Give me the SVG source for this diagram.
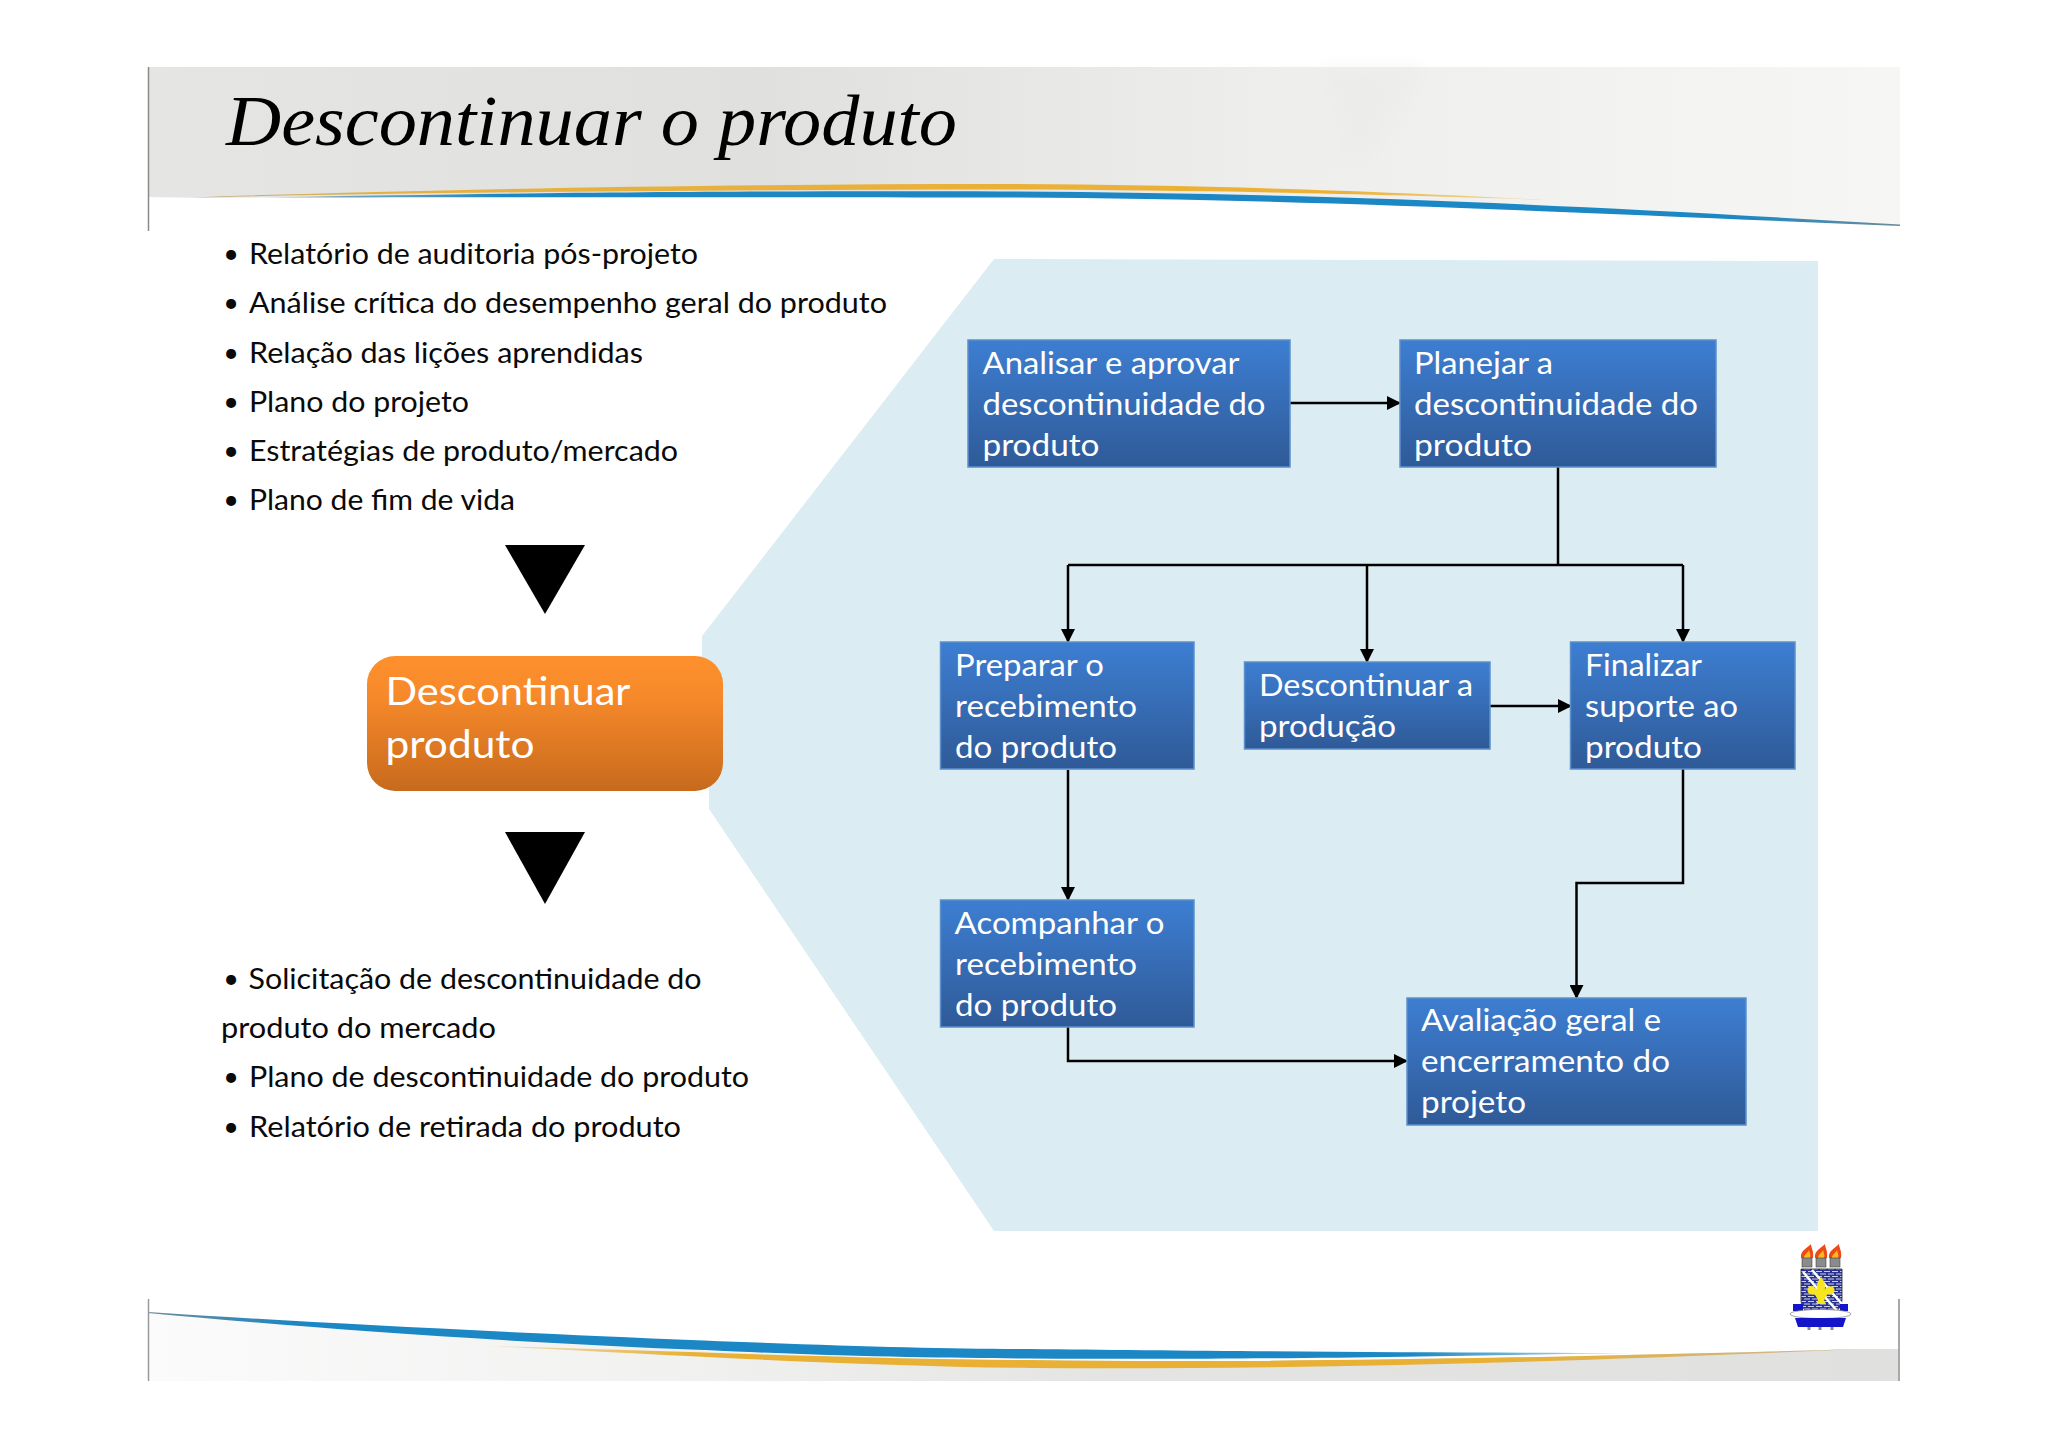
<svg xmlns="http://www.w3.org/2000/svg" width="2048" height="1447" viewBox="0 0 2048 1447">
<style>
.bl{font-family:"Lato","Open Sans",sans-serif;font-size:28px;fill:#0a0a0a}
.bu{font-family:"Lato","Open Sans",sans-serif;font-size:27px;fill:#0a0a0a;text-anchor:middle}
.bx{font-family:"Lato","Open Sans",sans-serif;font-size:30.5px;fill:#fff}
.or{font-family:"Lato","Open Sans",sans-serif;font-size:38px;fill:#fff}
.box{fill:url(#bg);stroke:#5c90cc;stroke-width:1.5}
.c{fill:none;stroke:#000;stroke-width:2.5;stroke-linejoin:miter}
.a{marker-end:url(#ar)}
.fl{fill:#ee4a18}.fy{fill:#f9b81e}.tc{fill:#8b8b8b;stroke:#444;stroke-width:.6}
</style>
<defs>
<linearGradient id="bg" x1="0" y1="0" x2="0" y2="1"><stop offset="0" stop-color="#3d7ed2"/><stop offset="1" stop-color="#2f5a97"/></linearGradient>
<linearGradient id="og" x1="0" y1="0" x2="0" y2="1"><stop offset="0" stop-color="#fe902c"/><stop offset=".3" stop-color="#f6892a"/><stop offset="1" stop-color="#c76a1d"/></linearGradient>
<linearGradient id="hd" x1="0" y1="0" x2="1" y2="0"><stop offset="0" stop-color="#e5e5e3"/><stop offset=".35" stop-color="#e0e0de"/><stop offset=".65" stop-color="#eeeeec"/><stop offset="1" stop-color="#f6f6f4"/></linearGradient>
<linearGradient id="ft" x1="0" y1="0" x2="1" y2="0"><stop offset="0" stop-color="#fbfbfb"/><stop offset=".3" stop-color="#f1f1f0"/><stop offset=".55" stop-color="#e4e4e2"/><stop offset="1" stop-color="#e0e0df"/></linearGradient>
<linearGradient id="gd" x1="0" y1="0" x2="1" y2="0"><stop offset="0" stop-color="#b9ad8c"/><stop offset=".12" stop-color="#e5b042"/><stop offset=".85" stop-color="#ecb134"/><stop offset="1" stop-color="#f3dcae"/></linearGradient>
<linearGradient id="bh" x1="0" y1="0" x2="1" y2="0"><stop offset="0" stop-color="#9fb4bb"/><stop offset=".15" stop-color="#1b87c4"/><stop offset=".9" stop-color="#1b87c4"/><stop offset="1" stop-color="#6c8c9c"/></linearGradient>
<linearGradient id="bf" x1="0" y1="0" x2="1" y2="0"><stop offset="0" stop-color="#6c8c9c"/><stop offset=".1" stop-color="#1b87c4"/><stop offset=".85" stop-color="#1b87c4"/><stop offset="1" stop-color="#cfe4ea"/></linearGradient>
<linearGradient id="gf" x1="0" y1="0" x2="1" y2="0"><stop offset="0" stop-color="#efe3c8"/><stop offset=".15" stop-color="#e8b035"/><stop offset=".75" stop-color="#e8b035"/><stop offset="1" stop-color="#c9b98f"/></linearGradient>
<pattern id="br" width="8" height="5" patternUnits="userSpaceOnUse"><rect width="8" height="5" fill="#2a3390"/><path d="M0 1.5H6M-4 4H2M4 4H10" stroke="#c9cfe8" stroke-width="1.1"/></pattern>
<marker id="ar" markerUnits="userSpaceOnUse" markerWidth="14" markerHeight="14" refX="12" refY="7" orient="auto"><path d="M0 0L14 7L0 14Z" fill="#000"/></marker>
<filter id="bl"><feGaussianBlur stdDeviation="8"/></filter>
</defs>
<rect width="2048" height="1447" fill="#fff"/>
<g id="header">
<path d="M148 67H1900V225C1550 204 1300 193 1000 192C800 191 600 192 300 197L205 198L148 197Z" fill="url(#hd)"/>
<path d="M1322 67H1425L1368 160H1345Z" fill="#e9e9e7" opacity=".45" filter="url(#bl)"/>
<path d="M190 197.500C400 190 700 184 1000 184C1200 184.500 1400 192 1545 200C1400 194.500 1200 190 1000 189.500C700 189.500 400 193 190 197.500Z" fill="url(#gd)"/>
<path d="M260 197.500C600 191.500 800 191 1000 191.500C1300 193 1550 203.500 1900 224.500L1900 226C1550 212 1300 198.500 1000 197.500C800 197 600 197 260 197.500Z" fill="url(#bh)"/>
<path d="M148.500 67V231" stroke="#8a8a8a" stroke-width="1.500" fill="none"/>
<text x="226" y="145" font-family="'Liberation Serif',serif" font-style="italic" font-size="72" fill="#000" textLength="731" lengthAdjust="spacingAndGlyphs">Descontinuar o produto</text>
</g>
<g transform="translate(0 1)">
<g id="footer">
<path d="M148 1311C300 1322 470 1331 704 1342L704 1350C850 1356 950 1359 1030 1359C1250 1362 1500 1358 1860 1348L1900 1348V1380H148Z" fill="url(#ft)"/>
<path d="M486 1345C650 1349 850 1358 1030 1359C1250 1362 1500 1358 1860 1348C1600 1360 1300 1369 1030 1367C850 1365 650 1353 486 1345Z" fill="url(#gf)"/>
<path d="M148 1311C300 1321 470 1330 704 1339.500C850 1345.500 950 1348 1030 1348C1200 1350 1450 1352 1633 1352C1450 1354.500 1300 1359 1030 1357.500C950 1357 850 1356 704 1349C470 1339.500 300 1326 148 1312Z" fill="url(#bf)"/>
<path d="M148.500 1298V1380" stroke="#9a9a9a" stroke-width="1.500" fill="none"/>
<path d="M1899 1298V1380" stroke="#a8a8a8" stroke-width="2" fill="none"/>
</g>
<polygon id="panel" points="994,258 1818,260 1818,1230 994,1230 709,808 709,790 702,700 702,635" fill="#dbedf3"/>
<g id="inputs">
<text class="bu" x="231" y="262">•</text><text class="bl" x="249" y="263" textLength="449" lengthAdjust="spacingAndGlyphs">Relatório de auditoria pós-projeto</text>
<text class="bu" x="231" y="311">•</text><text class="bl" x="249" y="312" textLength="638" lengthAdjust="spacingAndGlyphs">Análise crítica do desempenho geral do produto</text>
<text class="bu" x="231" y="361">•</text><text class="bl" x="249" y="362" textLength="394" lengthAdjust="spacingAndGlyphs">Relação das lições aprendidas</text>
<text class="bu" x="231" y="410">•</text><text class="bl" x="249" y="411" textLength="220" lengthAdjust="spacingAndGlyphs">Plano do projeto</text>
<text class="bu" x="231" y="459">•</text><text class="bl" x="249" y="460" textLength="429" lengthAdjust="spacingAndGlyphs">Estratégias de produto/mercado</text>
<text class="bu" x="231" y="508">•</text><text class="bl" x="249" y="509" textLength="266" lengthAdjust="spacingAndGlyphs">Plano de fim de vida</text>
</g>
<polygon id="tri-top" points="505,544 585,544 545,613" fill="#000"/>
<polygon id="tri-bottom" points="505,831 585,831 545,903" fill="#000"/>
<g id="outputs">
<text class="bu" x="231" y="987">•</text><text class="bl" x="248.500" y="988" textLength="453" lengthAdjust="spacingAndGlyphs">Solicitação de descontinuidade do</text>
<text class="bl" x="221" y="1037" textLength="275" lengthAdjust="spacingAndGlyphs">produto do mercado</text>
<text class="bu" x="231" y="1085">•</text><text class="bl" x="249" y="1086" textLength="500" lengthAdjust="spacingAndGlyphs">Plano de descontinuidade do produto</text>
<text class="bu" x="231" y="1135">•</text><text class="bl" x="249" y="1136" textLength="432" lengthAdjust="spacingAndGlyphs">Relatório de retirada do produto</text>
</g>
<g id="node-descontinuar-produto">
<rect x="367" y="655" width="356" height="135" rx="28" fill="url(#og)"/>
<text class="or" x="385.500" y="704" textLength="245" lengthAdjust="spacingAndGlyphs">Descontinuar</text>
<text class="or" x="385.500" y="757" textLength="149" lengthAdjust="spacingAndGlyphs">produto</text>
</g>
<g id="connectors">
<path class="c a" d="M1290 402H1399"/>
<path class="c" d="M1558 466V564"/>
<path class="c" d="M1068 564H1683"/>
<path class="c a" d="M1068 564V640"/>
<path class="c a" d="M1367 564V660"/>
<path class="c a" d="M1683 564V640"/>
<path class="c a" d="M1490 705H1570"/>
<path class="c a" d="M1068 769V898"/>
<path class="c a" d="M1683 768V882H1576.500V996"/>
<path class="c a" d="M1068 1026V1060H1406"/>
</g>
<g id="node-analisar">
<rect class="box" x="968" y="339" width="322" height="127"/>
<text class="bx" x="982.500" y="373" textLength="257" lengthAdjust="spacingAndGlyphs">Analisar e aprovar</text>
<text class="bx" x="982.500" y="414" textLength="283" lengthAdjust="spacingAndGlyphs">descontinuidade do</text>
<text class="bx" x="982.500" y="455" textLength="117" lengthAdjust="spacingAndGlyphs">produto</text>
</g>
<g id="node-planejar">
<rect class="box" x="1400" y="339" width="316" height="127"/>
<text class="bx" x="1414" y="373" textLength="139" lengthAdjust="spacingAndGlyphs">Planejar a</text>
<text class="bx" x="1414" y="414" textLength="284" lengthAdjust="spacingAndGlyphs">descontinuidade do</text>
<text class="bx" x="1414" y="455" textLength="118" lengthAdjust="spacingAndGlyphs">produto</text>
</g>
<g id="node-preparar">
<rect class="box" x="940.500" y="641" width="253.500" height="127"/>
<text class="bx" x="955" y="675" textLength="149" lengthAdjust="spacingAndGlyphs">Preparar o</text>
<text class="bx" x="955" y="716" textLength="182" lengthAdjust="spacingAndGlyphs">recebimento</text>
<text class="bx" x="955" y="757" textLength="162" lengthAdjust="spacingAndGlyphs">do produto</text>
</g>
<g id="node-descontinuar-producao">
<rect class="box" x="1244.500" y="661" width="245.500" height="87"/>
<text class="bx" x="1259" y="695" textLength="214" lengthAdjust="spacingAndGlyphs">Descontinuar a</text>
<text class="bx" x="1259" y="736" textLength="137" lengthAdjust="spacingAndGlyphs">produção</text>
</g>
<g id="node-finalizar">
<rect class="box" x="1570.500" y="641" width="224.500" height="127"/>
<text class="bx" x="1585" y="675" textLength="117" lengthAdjust="spacingAndGlyphs">Finalizar</text>
<text class="bx" x="1585" y="716" textLength="153" lengthAdjust="spacingAndGlyphs">suporte ao</text>
<text class="bx" x="1585" y="757" textLength="117" lengthAdjust="spacingAndGlyphs">produto</text>
</g>
<g id="node-acompanhar">
<rect class="box" x="940.500" y="899" width="253.500" height="127"/>
<text class="bx" x="954.500" y="933" textLength="210" lengthAdjust="spacingAndGlyphs">Acompanhar o</text>
<text class="bx" x="955" y="974" textLength="182" lengthAdjust="spacingAndGlyphs">recebimento</text>
<text class="bx" x="955" y="1015" textLength="162" lengthAdjust="spacingAndGlyphs">do produto</text>
</g>
<g id="node-avaliacao">
<rect class="box" x="1407" y="997" width="339" height="127"/>
<text class="bx" x="1421" y="1030" textLength="240" lengthAdjust="spacingAndGlyphs">Avaliação geral e</text>
<text class="bx" x="1421" y="1071" textLength="249" lengthAdjust="spacingAndGlyphs">encerramento do</text>
<text class="bx" x="1421" y="1112" textLength="105" lengthAdjust="spacingAndGlyphs">projeto</text>
</g>
</g>
<g id="crest">
<g id="torches">
<path class="fl" d="M1801 1258C1800 1251 1806 1249 1811 1244C1811 1248 1814 1250 1813 1258Z"/><path class="fy" d="M1804 1258C1804 1254 1808 1253 1809 1250C1810 1254 1811 1255 1810 1258Z"/><rect class="tc" x="1802" y="1258" width="10" height="9"/>
<path class="fl" d="M1815 1258C1814 1251 1820 1249 1825 1244C1825 1248 1828 1250 1827 1258Z"/><path class="fy" d="M1818 1258C1818 1254 1822 1253 1823 1250C1824 1254 1825 1255 1824 1258Z"/><rect class="tc" x="1816" y="1258" width="10" height="9"/>
<path class="fl" d="M1829 1258C1828 1251 1834 1249 1839 1244C1839 1248 1842 1250 1841 1258Z"/><path class="fy" d="M1832 1258C1832 1254 1836 1253 1837 1250C1838 1254 1839 1255 1838 1258Z"/><rect class="tc" x="1830" y="1258" width="10" height="9"/>
</g>
<path d="M1801 1269H1842V1300C1842 1310 1832 1316 1821 1316C1810 1316 1801 1310 1801 1300Z" fill="url(#br)" stroke="#222" stroke-width=".8"/>
<path d="M1803 1272L1838 1312M1812 1270L1842 1304" stroke="#fff" stroke-width="2.500" fill="none"/>
<path d="M1821 1277C1826 1283 1826 1288 1823.500 1292C1825 1287 1832 1284 1834 1288C1836 1292 1832 1296 1828 1294C1826 1296 1825 1298 1824 1300L1826 1304H1816L1818 1300C1817 1298 1816 1296 1814 1294C1810 1296 1806 1292 1808 1288C1810 1284 1817 1287 1818.500 1292C1816 1288 1816 1283 1821 1277Z" fill="#f7e51e"/>
<path d="M1793 1304H1803V1311H1793ZM1840 1304H1848V1311H1840Z" fill="#1414c8"/>
<ellipse cx="1820.500" cy="1314" rx="30.500" ry="4.500" fill="#fff" stroke="#777" stroke-width=".7"/>
<path d="M1795 1318H1846L1843 1327H1798Z" fill="#1414c8"/>
<path d="M1809 1327v3M1820 1327v3M1832 1327v3" stroke="#888" stroke-width="3" fill="none"/>
</g>
</svg>
